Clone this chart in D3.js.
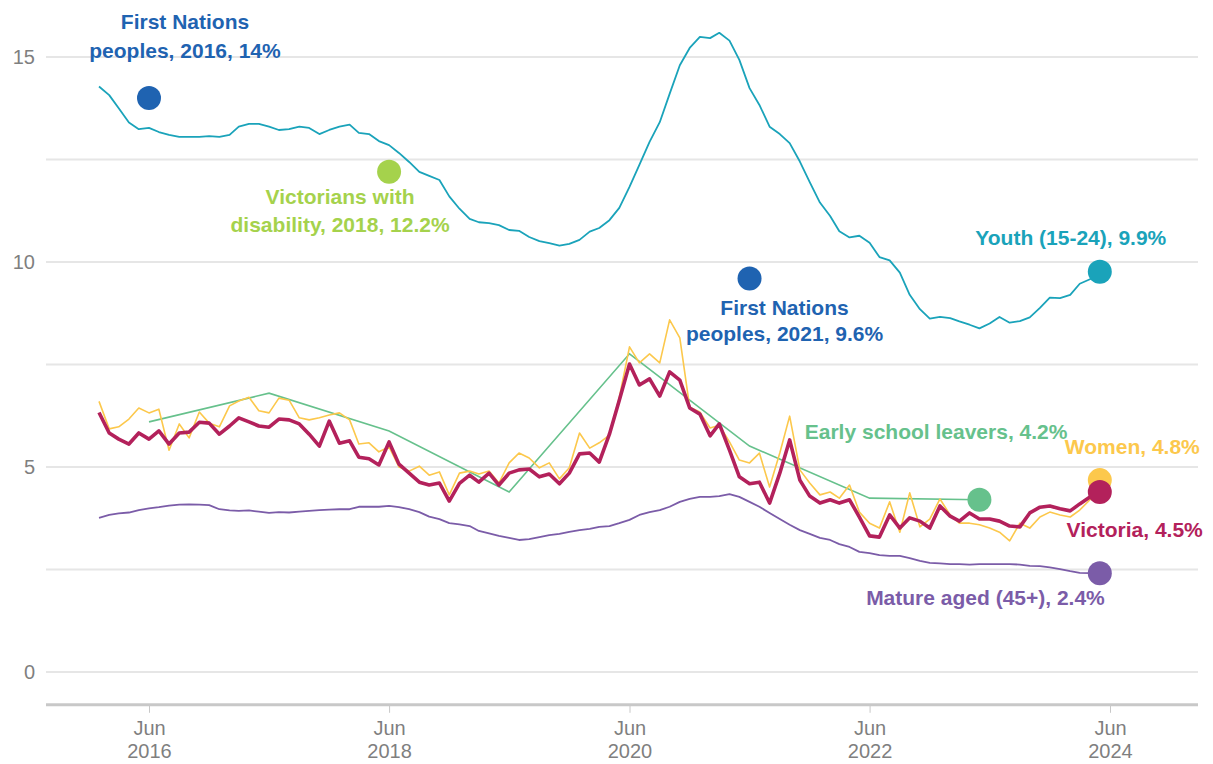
<!DOCTYPE html>
<html>
<head>
<meta charset="utf-8">
<script src="https://cdn.jsdelivr.net/npm/d3@7"></script>
<style>
  body { margin: 0; background: #fff; }
  text { font-family: "Liberation Sans", Arial, Helvetica, sans-serif; }
</style>
</head>
<body>
<div id="chart"></div>
<script>
// DATA -----------------------------------

// monthly series start in Jan 2016 (one value per month)
var firstMonth = "2016-01";

var youth = [
  14.28, 14.07, 13.75, 13.4, 13.24, 13.27, 13.17, 13.1, 13.05, 13.05,
  13.05, 13.07, 13.05, 13.1, 13.3, 13.37, 13.37, 13.3, 13.22, 13.24,
  13.3, 13.27, 13.12, 13.22, 13.3, 13.35, 13.15, 13.12, 12.95, 12.85,
  12.66, 12.44, 12.2, 12.1, 12.0, 11.6, 11.3, 11.05, 10.97, 10.95,
  10.9, 10.78, 10.76, 10.61, 10.51, 10.46, 10.4, 10.44, 10.54, 10.74,
  10.83, 11.02, 11.32, 11.83, 12.37, 12.93, 13.41, 14.1, 14.8, 15.22,
  15.49, 15.46, 15.59, 15.4, 14.93, 14.24, 13.83, 13.3, 13.12, 12.9,
  12.45, 11.95, 11.45, 11.12, 10.75, 10.6, 10.64, 10.47, 10.12, 10.04,
  9.74, 9.2, 8.85, 8.62, 8.66, 8.63, 8.55, 8.47, 8.38, 8.5,
  8.66, 8.52, 8.56, 8.65, 8.88, 9.13, 9.12, 9.2, 9.47, 9.58,
  9.76
];

var victoria = [
  6.33, 5.83, 5.68, 5.56, 5.83, 5.68, 5.88, 5.56, 5.83, 5.85,
  6.09, 6.07, 5.8, 6.0, 6.2, 6.1, 6.0, 5.97, 6.17, 6.15,
  6.05, 5.8, 5.51, 6.12, 5.58, 5.64, 5.24, 5.2, 5.05, 5.61,
  5.07, 4.85, 4.63, 4.56, 4.61, 4.17, 4.6, 4.8, 4.63, 4.85,
  4.56, 4.85, 4.93, 4.95, 4.76, 4.83, 4.59, 4.85, 5.32, 5.34,
  5.12, 5.8, 6.63, 7.51, 7.0, 7.15, 6.73, 7.32, 7.12, 6.44,
  6.29, 5.76, 6.05, 5.41, 4.76, 4.59, 4.63, 4.12, 4.85, 5.66,
  4.68, 4.29, 4.12, 4.2, 4.12, 4.2, 3.78, 3.32, 3.29, 3.83,
  3.51, 3.76, 3.68, 3.51, 4.05, 3.8, 3.68, 3.88, 3.73, 3.73,
  3.68, 3.56, 3.54, 3.88, 4.02, 4.05, 3.98, 3.93, 4.1, 4.27,
  4.39
];

var women = [
  6.6, 5.93, 5.98, 6.17, 6.44, 6.32, 6.41, 5.41, 6.05, 5.71,
  6.34, 6.07, 5.98, 6.49, 6.61, 6.7, 6.37, 6.32, 6.68, 6.63,
  6.2, 6.15, 6.2, 6.27, 6.32, 6.15, 5.56, 5.59, 5.37, 5.49,
  5.0, 4.9, 5.02, 4.8, 4.88, 4.32, 4.85, 4.9, 4.83, 4.9,
  4.61, 5.1, 5.34, 5.22, 4.98, 5.1, 4.71, 4.98, 5.83, 5.46,
  5.59, 5.78, 6.7, 7.93, 7.54, 7.76, 7.54, 8.59, 8.15, 6.46,
  6.34, 5.95, 6.02, 5.61, 5.17, 5.1, 5.34, 4.51, 5.34, 6.24,
  4.93, 4.61, 4.32, 4.39, 4.24, 4.56, 3.9, 3.63, 3.51, 4.15,
  3.41, 4.37, 3.54, 3.73, 4.22, 3.83, 3.63, 3.63, 3.59, 3.51,
  3.41, 3.2, 3.63, 3.51, 3.78, 3.9, 3.83, 3.78, 3.95, 4.2,
  4.68
];

var matureAged = [
  3.76, 3.83, 3.87, 3.89, 3.95, 3.99, 4.02, 4.06, 4.08, 4.09,
  4.08, 4.07, 3.97, 3.94, 3.93, 3.94, 3.91, 3.88, 3.9, 3.89,
  3.91, 3.93, 3.95, 3.96, 3.97, 3.97, 4.03, 4.03, 4.03, 4.05,
  4.02, 3.97, 3.9, 3.79, 3.73, 3.63, 3.6, 3.56, 3.44, 3.38,
  3.32, 3.27, 3.22, 3.24, 3.29, 3.34, 3.37, 3.42, 3.46, 3.49,
  3.54, 3.56, 3.63, 3.71, 3.83, 3.9, 3.95, 4.03, 4.15, 4.22,
  4.27, 4.27, 4.29, 4.34, 4.27, 4.15, 4.03, 3.88, 3.73, 3.59,
  3.46, 3.37, 3.27, 3.22, 3.12, 3.05, 2.93, 2.9, 2.85, 2.83,
  2.83, 2.78, 2.71, 2.66, 2.65, 2.63, 2.63, 2.62, 2.63, 2.63,
  2.63, 2.63, 2.62, 2.59, 2.58, 2.55, 2.51, 2.46, 2.42, 2.41,
  2.41
];

// early school leavers are yearly
var earlyLeaverMonths = ["2016-06", "2017-06", "2018-06", "2019-06", "2020-06", "2021-06", "2022-06", "2023-05"];
var earlyLeavers = [6.1, 6.8, 5.88, 4.39, 7.76, 5.51, 4.24, 4.2];

// single census-style points
var pointNames = ["fn2016", "disability2018", "fn2021"];
var pointMonths = ["2016-06", "2018-06", "2021-06"];
var pointValues = [14, 12.2, 9.6];

// label text
var labelLines = {
  fn2016: ["First Nations", "peoples, 2016, 14%"],
  disability2018: ["Victorians with", "disability, 2018, 12.2%"],
  fn2021: ["First Nations", "peoples, 2021, 9.6%"],
  youth: ["Youth (15-24), 9.9%"],
  early: ["Early school leavers, 4.2%"],
  women: ["Women, 4.8%"],
  victoria: ["Victoria, 4.5%"],
  mature: ["Mature aged (45+), 2.4%"]
};

var tickYears = [2016, 2018, 2020, 2022, 2024];
var yTickValues = [0, 5, 10, 15];
var yGridValues = [0, 2.5, 5, 7.5, 10, 12.5, 15];

// STYLE / LAYOUT -----------------------------------

var svgWidth = 1213;
var svgHeight = 764;
var plotLeft = 46, plotRight = 1198;

var colors = {
  youth: "#1aa3ba",
  mature: "#7b5ca8",
  women: "#fcc84c",
  victoria: "#b3215b",
  early: "#66c18c",
  fn: "#1f63b1",
  disability: "#a5d24c"
};

// label offsets relative to their dot
var labelLayout = {
  fn2016: { dx: 36, dy: [-69, -40], anchor: "middle", color: colors.fn },
  disability2018: { dx: -49, dy: [32, 60], anchor: "middle", color: colors.disability },
  fn2021: { dx: 35, dy: [37, 63], anchor: "middle", color: colors.fn },
  youth: { dx: -29, dy: [-27], anchor: "middle", color: colors.youth },
  early: { dx: 88, dy: [-61], anchor: "end", color: colors.early },
  women: { dx: 100, dy: [-26], anchor: "end", color: colors.women },
  victoria: { dx: 103, dy: [45], anchor: "end", color: colors.victoria },
  mature: { dx: 5, dy: [32], anchor: "end", color: colors.mature }
};

// SET UP -----------------------------------

var parseMonth = d3.timeParse("%Y-%m");
var start = parseMonth(firstMonth);
var months = d3.timeMonth.range(start, d3.timeMonth.offset(start, youth.length));

var svg = d3.select("#chart")
  .append("svg")
  .attr("width", svgWidth)
  .attr("height", svgHeight)
  .style("background", "#fff");

var xScale = d3.scaleTime()
  .domain([new Date(2016, 5, 1), new Date(2024, 5, 1)])
  .range([149, 1110]);

var yScale = d3.scaleLinear()
  .domain([0, 15])
  .range([672, 57]);

// gridlines
svg.append("g")
  .selectAll("line")
  .data(yGridValues)
  .enter()
  .append("line")
  .attr("x1", plotLeft)
  .attr("x2", plotRight)
  .attr("y1", d => yScale(d))
  .attr("y2", d => yScale(d))
  .attr("stroke", "#e6e6e6")
  .attr("stroke-width", 2);

// y labels
svg.append("g")
  .selectAll("text")
  .data(yTickValues)
  .enter()
  .append("text")
  .attr("x", 35)
  .attr("y", d => yScale(d))
  .attr("dy", "0.36em")
  .attr("text-anchor", "end")
  .attr("fill", "#7f7f7f")
  .style("font-size", "20px")
  .text(d => d);

// x axis
var axisY = yScale(-0.8);
var xAxis = d3.axisBottom(xScale)
  .tickValues(tickYears.map(y => new Date(y, 5, 1)))
  .tickSize(8)
  .tickSizeOuter(0)
  .tickFormat("");

var xAxisGroup = svg.append("g")
  .attr("transform", `translate(0, ${axisY})`)
  .call(xAxis);

xAxisGroup.select(".domain").remove();
xAxisGroup.selectAll(".tick line").attr("stroke", "#c8c8c8").attr("stroke-width", 1);

xAxisGroup.selectAll(".tick")
  .append("text")
  .attr("fill", "#7f7f7f")
  .attr("text-anchor", "middle")
  .style("font-size", "20px")
  .each(function(d) {
    var t = d3.select(this);
    t.append("tspan").attr("x", 0).attr("y", 30).text("Jun");
    t.append("tspan").attr("x", 0).attr("y", 53).text(d.getFullYear());
  });

svg.append("line")
  .attr("x1", plotLeft)
  .attr("x2", plotRight)
  .attr("y1", axisY)
  .attr("y2", axisY)
  .attr("stroke", "#c8c8c8")
  .attr("stroke-width", 3);

// LINES -----------------------------------

var line = d3.line()
  .x(d => xScale(d.date))
  .y(d => yScale(d.value));

function toPoints(dates, values) {
  return values.map((v, i) => ({ date: dates[i], value: v }));
}

var monthly = [
  { key: "youth", values: youth, width: 1.8 },
  { key: "mature", values: matureAged, width: 1.8 },
  { key: "women", values: women, width: 1.6 },
  { key: "victoria", values: victoria, width: 3.6 }
];

var earlyPoints = toPoints(earlyLeaverMonths.map(parseMonth), earlyLeavers);

// early school leavers drawn under the women/victoria lines
svg.append("path")
  .datum(earlyPoints)
  .attr("fill", "none")
  .attr("stroke", colors.early)
  .attr("stroke-width", 1.6)
  .attr("d", line);

monthly.forEach(function(s) {
  s.points = toPoints(months, s.values);
  svg.append("path")
    .datum(s.points)
    .attr("fill", "none")
    .attr("stroke", colors[s.key])
    .attr("stroke-width", s.width)
    .attr("stroke-linejoin", "round")
    .attr("d", line);
});

// DOTS + LABELS -----------------------------------

var dots = [];
pointNames.forEach(function(name, i) {
  dots.push({ key: name, date: parseMonth(pointMonths[i]), value: pointValues[i] });
});
dots.push({ key: "early", date: earlyPoints[earlyPoints.length - 1].date, value: earlyPoints[earlyPoints.length - 1].value });
["mature", "youth", "women", "victoria"].forEach(function(k) {
  var s = monthly.find(m => m.key === k);
  var last = s.points[s.points.length - 1];
  dots.push({ key: k, date: last.date, value: last.value });
});

svg.append("g")
  .selectAll("circle")
  .data(dots)
  .enter()
  .append("circle")
  .attr("cx", d => xScale(d.date))
  .attr("cy", d => yScale(d.value))
  .attr("r", 12)
  .attr("fill", d => labelLayout[d.key].color);

dots.forEach(function(d) {
  var lay = labelLayout[d.key];
  var cx = xScale(d.date), cy = yScale(d.value);
  var t = svg.append("text")
    .attr("text-anchor", lay.anchor)
    .attr("fill", lay.color)
    .style("font-size", "21px")
    .style("font-weight", "bold");
  labelLines[d.key].forEach(function(txt, j) {
    t.append("tspan")
      .attr("x", cx + lay.dx)
      .attr("y", cy + lay.dy[j])
      .text(txt);
  });
});
</script>
</body>
</html>
